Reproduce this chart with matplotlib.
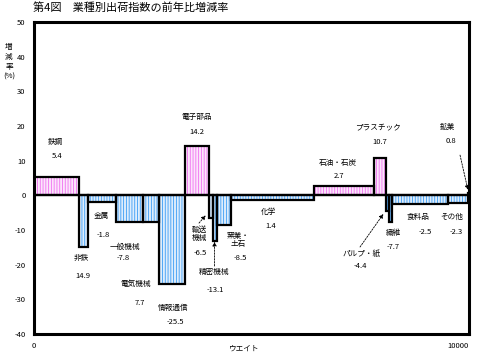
import matplotlib
matplotlib.use("Agg")
import matplotlib.pyplot as plt
import numpy as np

plt.rcParams['font.family'] = ['Noto Sans CJK JP', 'DejaVu Sans']
plt.rcParams['hatch.linewidth'] = 0.6

# industries in drawing order, weight (x width) and change rate (%)
names = ['鉄鋼', '非鉄', '金属', '一般機械', '電気機械', '情報通信', '電子部品',
         '輸送機械', '精密機械', '窯業・土石', '化学', '石油・石炭', 'プラスチック',
         'パルプ・紙', '繊維', '食料品', 'その他', '鉱業']
weights = [1030, 214, 644, 621, 368, 598, 552, 92, 78, 329, 1908, 1380, 276,
           69, 62, 1301, 446, 32]
rates = [5.4, -14.9, -1.8, -7.8, -7.7, -25.5, 14.2, -6.5, -13.1, -8.5, -1.4,
         2.7, 10.7, -4.4, -7.7, -2.5, -2.3, 0.8]
# value text as printed on the chart
value_text = ['5.4', '14.9', '-1.8', '-7.8', '7.7', '-25.5', '14.2', '-6.5',
              '-13.1', '-8.5', '1.4', '2.7', '10.7', '-4.4', '-7.7', '-2.5',
              '-2.3', '0.8']

yticks = [-40, -30, -20, -10, 0, 10, 20, 30, 40, 50]

# label layout: name text, (x, y) of name, (x, y) of value
label_pos = [
    ('鉄鋼', (483, 15.4), (529, 11.3)),
    ('非鉄', (1080, -18.1), (1127, -23.3)),
    ('金属', (1540, -6.1), (1586, -11.3)),
    ('一般機械', (2092, -14.9), (2046, -18.1)),
    ('電気機械', (2345, -25.6), (2437, -31.1)),
    ('情報通信', (3196, -32.5), (3242, -36.6)),
    ('電子部品', (3747, 22.6), (3747, 18.2)),
    ('輸送\n機械', (3793, -11.2), (3816, -16.7)),
    ('精密機械', (4138, -22.1), (4161, -27.3)),
    ('窯業・\n土石', (4690, -12.9), (4736, -18.1)),
    ('化学', (5380, -4.8), (5449, -8.9)),
    ('石油・石炭', (6989, 9.3), (7012, 5.6)),
    ('プラスチック', (7909, 19.5), (7955, 15.3)),
    ('パルプ・紙', (7541, -17.0), (7495, -20.5)),
    ('繊維', (8253, -10.9), (8253, -14.9)),
    ('食料品', (8828, -6.3), (8989, -10.6)),
    ('その他', (9610, -6.3), (9702, -10.6)),
    ('鉱業', (9495, 19.8), (9587, 15.7)),
]

# pointer arrows: (start, end)
arrows = [
    ((3793, -8.0), (3945, -5.8)),
    ((4150, -20.4), (4150, -13.4)),
    ((7495, -14.9), (8030, -5.4)),
    ((9794, 11.6), (9975, 1.6)),
]

weights = np.array(weights)
rates = np.array(rates)
lefts = np.concatenate([[0], np.cumsum(weights)[:-1]])

fig = plt.figure(figsize=(4.8, 3.56), dpi=100)
ax = fig.add_axes([34 / 480, 1 - 334 / 356, 435 / 480, 312 / 356])

pos = rates > 0
hatch_cols = np.where(pos, '#f070f0', '#3a9cf5')
face_cols = np.where(pos, '#fce6fc', '#deedfc')

ax.bar(lefts, rates, width=weights, align='edge', color=face_cols,
       edgecolor=hatch_cols, linewidth=0, hatch='||||||', zorder=2)
ax.bar(lefts, rates, width=weights, align='edge', fill=False,
       edgecolor='black', linewidth=1.6, zorder=3)
ax.axhline(0, color='black', linewidth=1.6, zorder=4)

for (name, npos, vpos), txt in zip(label_pos, value_text):
    ax.text(npos[0], npos[1], name, ha='center', va='center', fontsize=5.5,
            linespacing=1.1, zorder=5)
    ax.text(vpos[0], vpos[1], txt, ha='center', va='center', fontsize=5.5,
            zorder=5)

for start, end in arrows:
    ax.annotate('', xy=end, xytext=start,
                arrowprops=dict(arrowstyle='-|>', color='black', lw=0.6,
                                linestyle=(0, (2, 1.5)), mutation_scale=6,
                                shrinkA=0, shrinkB=0), zorder=5)

ax.set_xlim(0, 10000)
ax.set_ylim(-40, 50)
ax.set_yticks(yticks)
ax.set_yticklabels([str(t) for t in yticks], fontsize=5.5)
ax.set_xticks([0, 10000])
ax.set_xticklabels(['0', '10000'], fontsize=5.5)
ax.get_xticklabels()[-1].set_ha('right')
ax.tick_params(length=0, pad=6)
for s in ax.spines.values():
    s.set_linewidth(2.2)

fig.text(33 / 480, 1 - 8 / 356, '第4図　業種別出荷指数の前年比増減率',
         fontsize=8, ha='left', va='center')
fig.text(9 / 480, 1 - 62 / 356, '増\n減\n率\n(%)', fontsize=5.5,
         ha='center', va='center', linespacing=1.3)
fig.text(243 / 480, 1 - 349 / 356, 'ウエイト', fontsize=5.5,
         ha='center', va='center')

fig.savefig('out.png', dpi=100)
